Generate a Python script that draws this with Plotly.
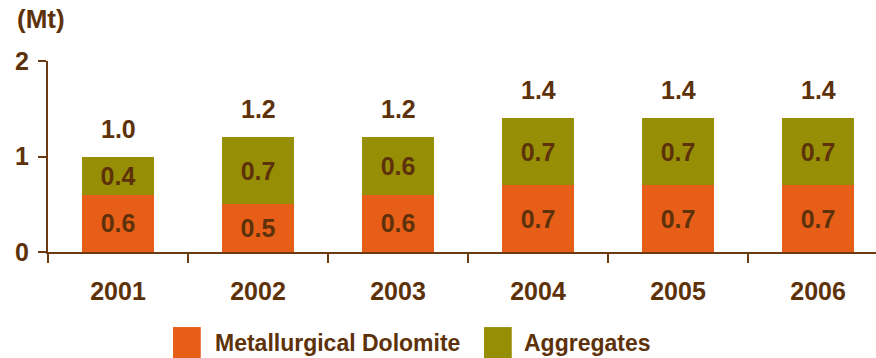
import plotly.graph_objects as go

# Production by product line, million tonnes
years = ["2001", "2002", "2003", "2004", "2005", "2006"]
dolomite = [0.6, 0.5, 0.6, 0.7, 0.7, 0.7]
aggregates = [0.4, 0.7, 0.6, 0.7, 0.7, 0.7]
series_names = ["Metallurgical Dolomite", "Aggregates"]
totals = [round(a + b, 1) for a, b in zip(dolomite, aggregates)]

ORANGE = "#E65E17"
OLIVE = "#968F06"
BROWN = "#5D320A"
AXIS = "#6B3A10"
FONT = "Liberation Sans, Arial, sans-serif"

fig = go.Figure()
for name, vals, col in [(series_names[0], dolomite, ORANGE),
                        (series_names[1], aggregates, OLIVE)]:
    fig.add_trace(go.Bar(
        x=years, y=vals, name=name, marker=dict(color=col, line=dict(width=0)),
        text=[f"{v:.1f}" for v in vals], textposition="inside",
        insidetextanchor="middle", constraintext="none",
        textfont=dict(family=FONT, size=25, color=BROWN, weight="bold"),
        width=0.52, showlegend=False, hoverinfo="skip",
    ))

# Stack totals above each column (category index positions)
for i, t in enumerate(totals):
    fig.add_annotation(x=i, y=t, text=f"<b>{t:.1f}</b>", showarrow=False,
                       yanchor="bottom", yshift=12,
                       font=dict(family=FONT, size=25, color=BROWN))

# Unit label
fig.add_annotation(xref="paper", yref="paper", x=-0.04, y=1.22,
                   xanchor="left", yanchor="middle", text="<b>(Mt)</b>",
                   showarrow=False, font=dict(family=FONT, size=26, color=BROWN))

# Legend built from swatches and labels below the axis
legend_items = [(series_names[0], ORANGE, 0.151, 0.199),
                (series_names[1], OLIVE, 0.5266, 0.5725)]
for name, col, x0, tx in legend_items:
    fig.add_shape(type="rect", xref="paper", yref="paper",
                  x0=x0, x1=x0 + 0.0335, y0=-0.555, y1=-0.393,
                  fillcolor=col, line=dict(width=0))
    fig.add_annotation(xref="paper", yref="paper", x=tx, y=-0.476,
                       xanchor="left", yanchor="middle", text=f"<b>{name}</b>",
                       showarrow=False,
                       font=dict(family=FONT, size=23, color=BROWN))

fig.update_layout(
    barmode="stack",
    width=876, height=358,
    margin=dict(l=48, r=0, t=61, b=106),
    plot_bgcolor="white", paper_bgcolor="white",
    font=dict(family=FONT, size=24, color=BROWN),
    xaxis=dict(
        type="category", range=[-0.5, 5.414], showgrid=False,
        showline=True, linecolor=AXIS, linewidth=2,
        ticks="outside", tickson="boundaries", ticklen=9, tickwidth=2,
        tickcolor=AXIS, ticklabelstandoff=16,
        tickfont=dict(family=FONT, size=25, color=BROWN, weight="bold"),
    ),
    yaxis=dict(
        range=[0, 2], tickvals=[0, 1, 2], showgrid=False, zeroline=False,
        showline=True, linecolor=AXIS, linewidth=2,
        ticks="outside", ticklen=8, tickwidth=2, tickcolor=AXIS,
        ticklabelstandoff=4,
        tickfont=dict(family=FONT, size=25, color=BROWN, weight="bold"),
    ),
)

fig.write_html("out.html")
